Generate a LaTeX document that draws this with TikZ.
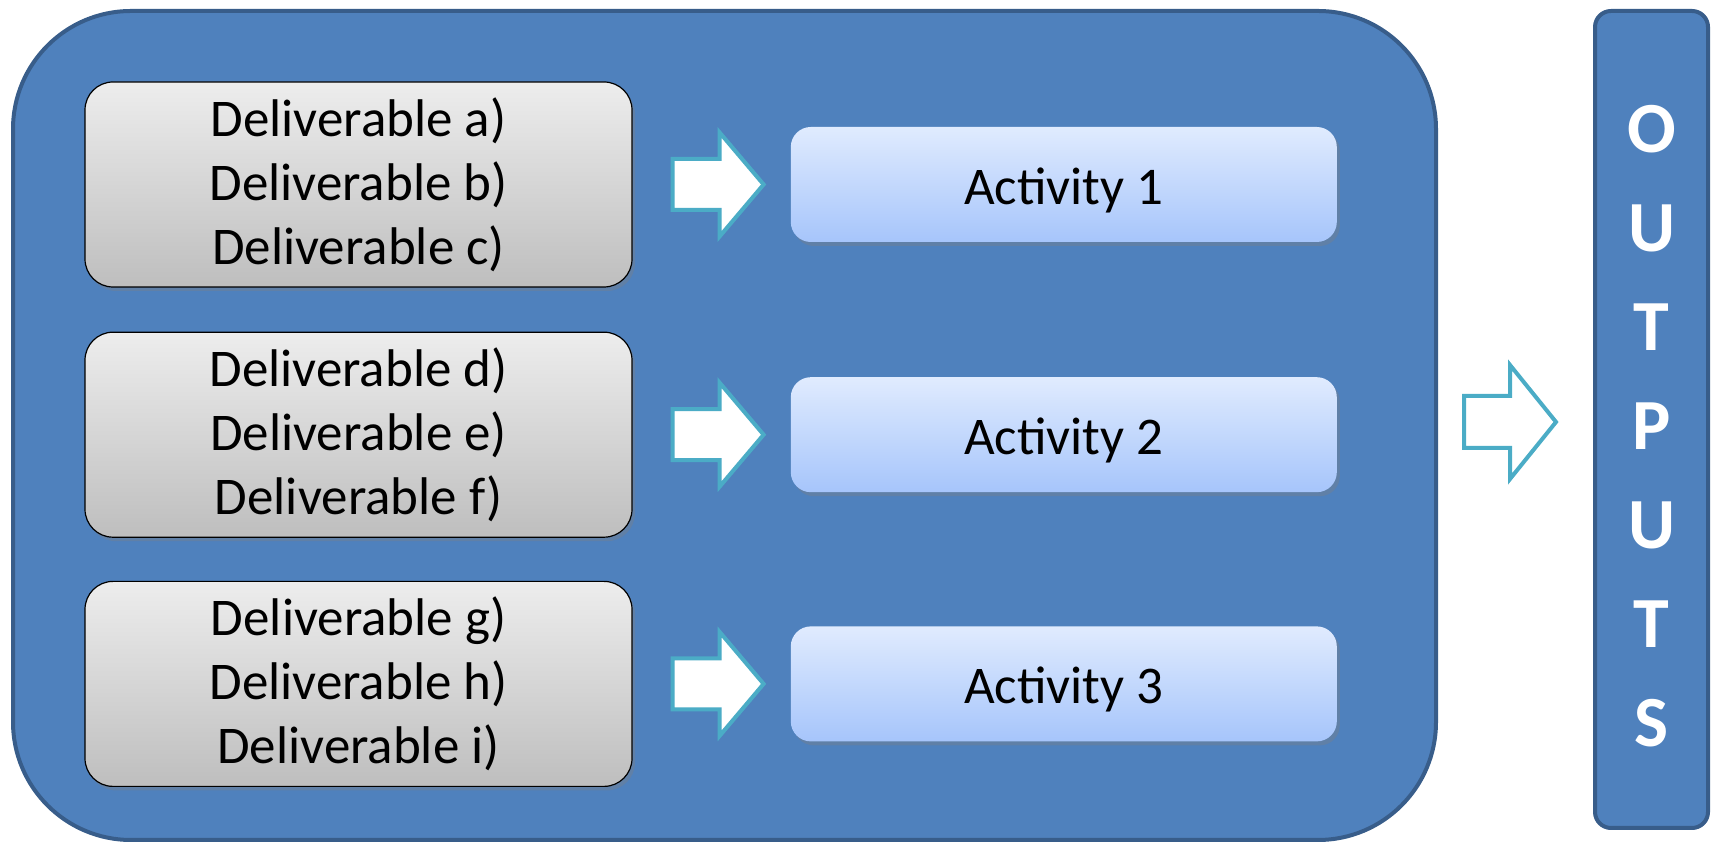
\documentclass[tikz,border=0pt]{standalone}
\usepackage{fontspec}
\setmainfont{Carlito}
\usetikzlibrary{positioning,shadows}

\begin{document}
\begin{tikzpicture}[x=1pt,y=1pt,
  frame/.style={draw=frameline,line width=4pt,fill=framefill,rounded corners=118pt,minimum width=1423pt,minimum height=829pt,inner sep=0pt},
  delbox/.style={draw=black,line width=1.2pt,rounded corners=28pt,top color=delhi,bottom color=dello,minimum width=547pt,minimum height=205pt,align=center,font=\fontsize{53}{64}\selectfont,drop shadow={shadow xshift=3pt,shadow yshift=-4pt,opacity=0.35}},
  actbox/.style={rounded corners=20pt,top color=acthi,bottom color=actlo,minimum width=546pt,minimum height=115pt,text height=46pt,text depth=6pt,font=\fontsize{53}{64}\selectfont,drop shadow={shadow xshift=3pt,shadow yshift=-4pt,opacity=0.35}},
  blockarrow/.style={draw=arrowline,line width=4pt,fill=white,line join=miter},
  outbox/.style={draw=frameline,line width=4pt,fill=framefill,rounded corners=16pt,minimum width=113pt,minimum height=817pt,inner sep=0pt},
  outtext/.style={text=white,align=center,font=\fontsize{72}{99}\selectfont\bfseries}]
\definecolor{framefill}{HTML}{4F81BD}
\definecolor{frameline}{HTML}{385D8A}
\definecolor{arrowline}{HTML}{4BACC6}
\definecolor{delhi}{HTML}{EDEDED}
\definecolor{dello}{HTML}{BEBEBE}
\definecolor{acthi}{HTML}{E0EBFE}
\definecolor{actlo}{HTML}{A6C5FB}
\useasboundingbox (0,0) rectangle (1717,845);
\node [frame] (frame) at (724.5,419.5) {};
% deliverables and activities
\node [delbox] (d1) at (358.5,660.5) {Deliverable a)\\Deliverable b)\\Deliverable c)};
\node [delbox,below=44 of d1] (d2) {Deliverable d)\\Deliverable e)\\Deliverable f)};
\node [delbox,below=43 of d2] (d3) {Deliverable g)\\Deliverable h)\\Deliverable i)};
\foreach \i in {1,2,3}
{ \node [actbox,right=158 of d\i] (a\i) {Activity \i};
  \draw [blockarrow,shift={([xshift=40]d\i.east)}] (0,25.5) -- (47,25.5) -- (47,52) -- (91,0) -- (47,-52) -- (47,-25.5) -- (0,-25.5) -- cycle;}
% outputs
\draw [blockarrow,fill=none,shift={([xshift=26,yshift=3.5]frame.east)}] (0,26) -- (46,26) -- (46,57) -- (92,0) -- (46,-57) -- (46,-26) -- (0,-26) -- cycle;
\node [outbox] (outputs) at (1651.5,425.5) {};
\node [outtext] (outlbl) at (1651.5,419) {O\\U\\T\\P\\U\\T\\S};
\end{tikzpicture}
\end{document}
